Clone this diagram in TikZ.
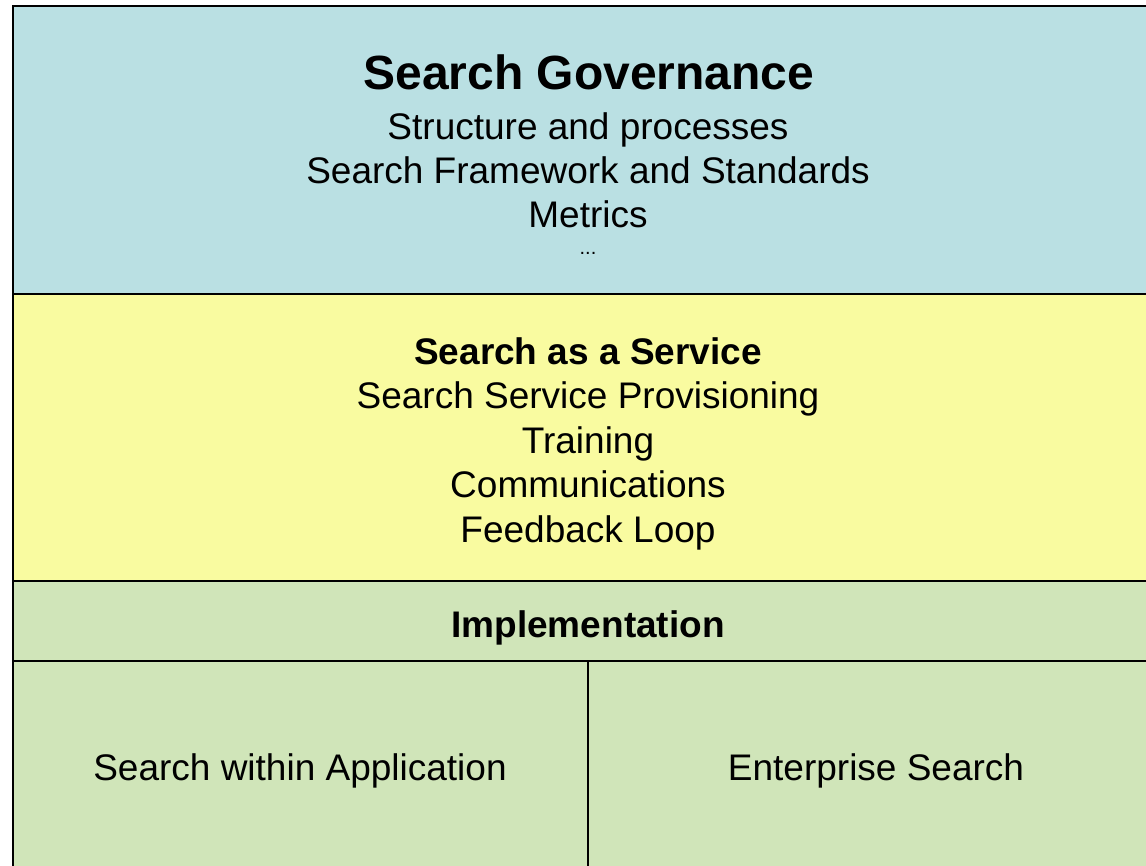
\documentclass[tikz,border=0pt]{standalone}
\usepackage{fontspec}
\setmainfont{Liberation Sans}
\definecolor{govblue}{RGB}{186,224,227}
\definecolor{saasyellow}{RGB}{249,251,160}
\definecolor{implgreen}{RGB}{208,229,185}

\begin{document}
\begin{tikzpicture}[x=1pt, y=-1pt,
    band/.style={draw=black, line width=2.2pt},
    txt/.style={anchor=base, inner sep=0pt, font=\fontsize{37}{44}\selectfont},
    hd/.style={anchor=base, inner sep=0pt, font=\fontsize{37}{44}\selectfont\bfseries}]
	\useasboundingbox (0,0) rectangle (1146,865);
	\clip (0,0) rectangle (1146,865);
	%Fondos
	\fill[govblue] (13,6) rectangle (1163,294);
	\fill[saasyellow] (13,294) rectangle (1163,581);
	\fill[implgreen] (13,581) rectangle (1163,873);
	%Bordes
	\draw[band] (13,6) rectangle (1163,873);
	\draw[band] (13,294) -- (1163,294);
	\draw[band] (13,581) -- (1163,581);
	\draw[band] (13,661) -- (1163,661);
	\draw[band] (588,661) -- (588,873);
	%Governance
	\node[anchor=base, inner sep=0pt, font=\fontsize{48}{56}\selectfont\bfseries] (gov) at (589,89) {Search Governance};
	\node[txt] (govA) at (588,139) {Structure and processes};
	\node[txt] (govB) at (588,183) {Search Framework and Standards};
	\node[txt] (govC) at (588,227) {Metrics};
	\node[anchor=base, inner sep=0pt, font=\fontsize{20}{24}\selectfont] (govdots) at (588,254) {...};
	%Service
	\node[hd] (saas) at (588,364) {Search as a Service};
	\node[txt] (saasA) at (588,408) {Search Service Provisioning};
	\node[txt] (saasB) at (588,453) {Training};
	\node[txt] (saasC) at (588,497) {Communications};
	\node[txt] (saasD) at (588,542) {Feedback Loop};
	%Implementation
	\node[hd] (impl) at (588,637) {Implementation};
	\node[txt] (implA) at (300,780) {Search within Application};
	\node[txt] (implB) at (876,780) {Enterprise Search};
\end{tikzpicture}
\end{document}
